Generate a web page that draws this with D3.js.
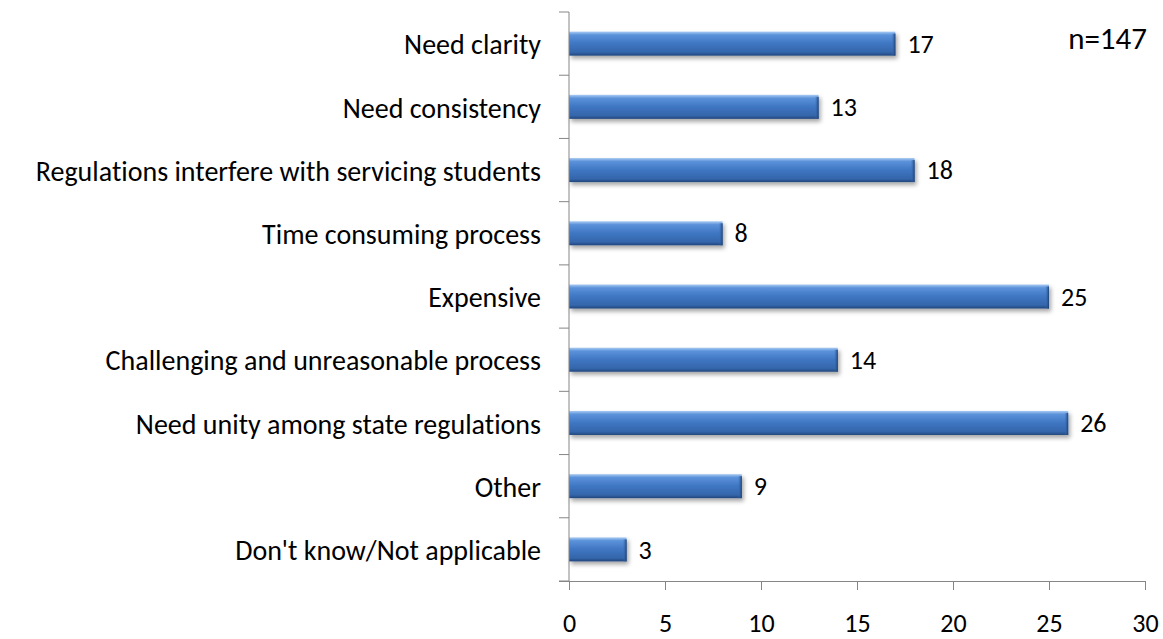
<!DOCTYPE html>
<html>
<head>
<meta charset="utf-8">
<script src="https://cdn.jsdelivr.net/npm/d3@7"></script>
<style>
  html, body { margin: 0; padding: 0; background: #fff; overflow: hidden; }
  svg { display: block; }
  svg text { font-family: "Carlito", "Calibri", "Lato", sans-serif; fill: #000; font-variant-ligatures: none; }
  .axis path, .axis line { stroke: #868686; }
</style>
</head>
<body>
<div id="chart"></div>
<script>
// categories top to bottom, with counts
const categories = [
  "Need clarity",
  "Need consistency",
  "Regulations interfere with servicing students",
  "Time consuming process",
  "Expensive",
  "Challenging and unreasonable process",
  "Need unity among state regulations",
  "Other",
  "Don't know/Not applicable"
];
const counts = [17, 13, 18, 8, 25, 14, 26, 9, 3];
const xTicks = [0, 5, 10, 15, 20, 25, 30];
const note = "n=147";

const W = 1163, Ht = 639;
const m = { t: 12, r: 18, b: 58, l: 569 };
const fs = 28, fsNum = 26;

const svg = d3.select("#chart").append("svg")
  .attr("width", W).attr("height", Ht).attr("viewBox", `0 0 ${W} ${Ht}`);

const x = d3.scaleLinear().domain([0, 30]).range([m.l, W - m.r]);
const y = d3.scaleBand().domain(categories).range([m.t, Ht - m.b])
  .paddingInner(0.62).paddingOuter(0.31);

const defs = svg.append("defs");
const grad = defs.append("linearGradient")
  .attr("id", "barGrad").attr("x1", 0).attr("y1", 0).attr("x2", 0).attr("y2", 1);
[["0%", "#a9cbf3"], ["14%", "#5b92da"], ["50%", "#3f76c2"], ["86%", "#3466ab"], ["100%", "#21467c"]]
  .forEach(s => grad.append("stop").attr("offset", s[0]).attr("stop-color", s[1]));
const endGrad = defs.append("linearGradient")
  .attr("id", "endGrad").attr("x1", 0).attr("y1", 0).attr("x2", 1).attr("y2", 0);
endGrad.append("stop").attr("offset", "0%").attr("stop-color", "#3f76c2").attr("stop-opacity", 0);
endGrad.append("stop").attr("offset", "100%").attr("stop-color", "#1d3f70");
const shadow = defs.append("filter").attr("id", "shadow")
  .attr("x", "-5%").attr("y", "-30%").attr("width", "115%").attr("height", "180%");
shadow.append("feDropShadow").attr("dx", 2).attr("dy", 3).attr("stdDeviation", 2)
  .attr("flood-color", "#000").attr("flood-opacity", 0.35);

// bars
const rows = categories.map((c, i) => ({ c, v: counts[i] }));
const bars = svg.append("g").selectAll("g").data(rows).join("g");
bars.append("rect")
  .attr("x", x(0)).attr("y", d => y(d.c))
  .attr("width", d => x(d.v) - x(0)).attr("height", y.bandwidth())
  .attr("fill", "url(#barGrad)")
  .attr("filter", "url(#shadow)");
bars.append("rect")
  .attr("x", d => x(d.v) - 4).attr("y", d => y(d.c) + 2)
  .attr("width", 4).attr("height", y.bandwidth() - 2)
  .attr("fill", "url(#endGrad)");

// value labels
svg.append("g").selectAll("text").data(rows).join("text")
  .attr("x", d => x(d.v) + 12)
  .attr("y", d => y(d.c) + y.bandwidth() / 2 + 3)
  .attr("dominant-baseline", "middle")
  .attr("font-size", fsNum)
  .text(d => d.v);

// category axis
const yAxis = svg.append("g").attr("class", "axis");
yAxis.append("line")
  .attr("x1", x(0)).attr("x2", x(0))
  .attr("y1", m.t).attr("y2", Ht - m.b);
yAxis.selectAll("line.tk").data(d3.range(categories.length + 1)).join("line")
  .attr("class", "tk")
  .attr("x1", x(0) - 10).attr("x2", x(0))
  .attr("y1", i => m.t + i * y.step()).attr("y2", i => m.t + i * y.step());
yAxis.selectAll("text").data(categories).join("text")
  .attr("x", x(0) - 28)
  .attr("y", d => y(d) + y.bandwidth() / 2 + 4)
  .attr("text-anchor", "end")
  .attr("dominant-baseline", "middle")
  .attr("font-size", fs)
  .text(d => d);

// value axis
const xAxis = svg.append("g").attr("class", "axis")
  .attr("transform", `translate(0,${Ht - m.b})`)
  .call(d3.axisBottom(x).tickValues(xTicks).tickSize(9).tickSizeOuter(0).tickPadding(24));
xAxis.select(".domain").remove();
xAxis.append("line").attr("x1", x(0) - 10).attr("x2", x(30)).attr("y1", 0.5).attr("y2", 0.5);
xAxis.selectAll("text").attr("font-size", fsNum).attr("fill", "#000");

svg.append("text")
  .attr("x", x(30) + 2).attr("y", 49)
  .attr("text-anchor", "end")
  .attr("font-size", 31)
  .text(note);
</script>
</body>
</html>
